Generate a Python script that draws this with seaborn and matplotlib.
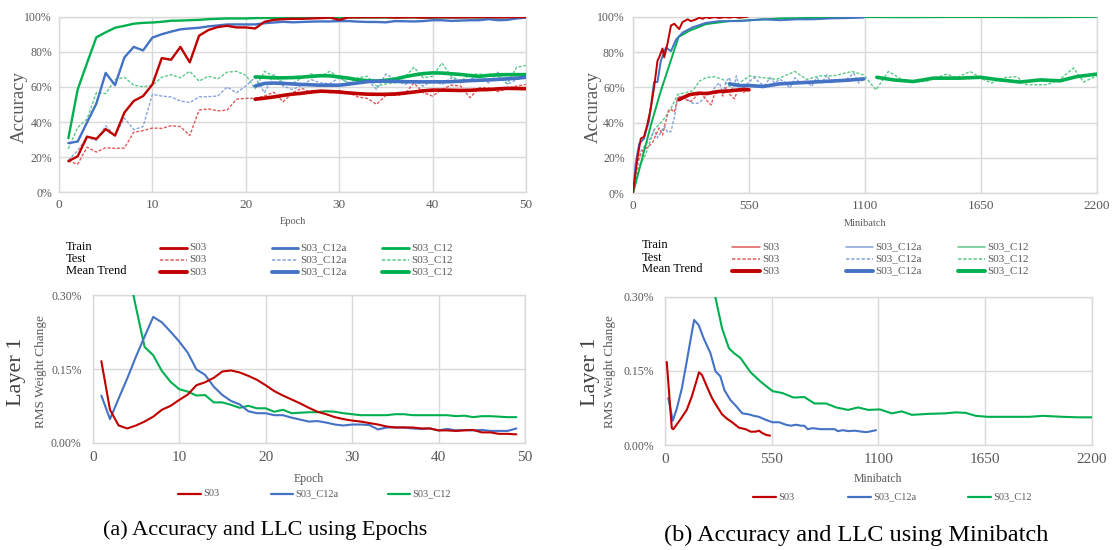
import matplotlib
matplotlib.use("Agg")
import matplotlib.pyplot as plt
import seaborn as sns
import pandas as pd
from matplotlib.lines import Line2D

# ---------------- data: (a) accuracy vs epoch ----------------
epochs = list(range(1, 51))
red_train_a = [17.7, 20.5, 31.7, 30.4, 36.0, 32.3, 45.4, 52.0, 54.8, 61.4,
               76.4, 75.5, 82.8, 74.0, 89.2, 92.4, 94.1, 94.8, 93.9, 93.9,
               93.3, 97.1, 98.2, 98.6, 98.8, 98.8, 99.0, 99.2, 99.5, 98.2,
               99.6, 99.6, 99.7, 99.7, 99.8, 99.5, 99.6, 99.7, 99.5, 99.6,
               99.7, 99.6, 99.6, 99.7, 99.7, 99.8, 99.6, 99.7, 99.8, 99.8]
blue_train_a = [28.0, 28.9, 39.8, 50.5, 68.0, 61.0, 76.8, 82.8, 80.8, 88.1,
                90.0, 91.5, 92.8, 93.3, 93.7, 94.5, 95.0, 95.6, 95.6, 95.6,
                95.6, 96.3, 96.7, 97.1, 96.8, 97.0, 97.2, 97.3, 97.3, 97.5,
                97.5, 97.2, 97.0, 97.0, 96.8, 97.5, 97.4, 97.3, 97.5, 98.0,
                98.0, 97.6, 97.8, 98.0, 98.0, 98.6, 98.0, 98.2, 99.0, 99.5]
green_train_a = [30.8, 58.6, 73.6, 88.3, 91.1, 93.7, 94.8, 96.0, 96.5, 96.7,
                 97.1, 97.7, 97.8, 98.0, 98.2, 98.6, 98.8, 99.0, 99.0, 99.0,
                 99.2, 99.3, 99.3, 99.4, 99.4, 99.5, 99.5, 99.5, 99.6, 99.5,
                 99.6, 99.6, 99.6, 99.6, 99.6, 99.6, 99.7, 99.6, 99.5, 99.5,
                 99.6, 99.6, 99.7, 99.7, 99.6, 99.6, 99.7, 99.7, 99.7, 99.7]
red_test_a = [17.8, 16.0, 25.7, 22.9, 25.4, 25.0, 25.2, 34.2, 35.1, 36.6,
              36.4, 37.9, 37.4, 32.3, 46.8, 47.5, 46.4, 46.8, 53.0, 53.5,
              53.5, 54.8, 57.0, 51.5, 56.7, 59.2, 56.7, 57.7, 56.7, 58.0,
              56.7, 54.3, 53.5, 50.1, 55.2, 55.2, 55.8, 62.3, 56.7, 54.8,
              58.6, 61.0, 60.5, 53.9, 59.5, 59.5, 57.3, 59.2, 60.5, 61.4]
blue_test_a = [18.2, 23.8, 31.4, 29.5, 37.9, 32.3, 42.3, 35.7, 37.4, 55.8,
               54.8, 54.3, 52.0, 51.1, 54.3, 54.5, 54.8, 59.9, 56.7, 60.5,
               65.5, 56.7, 67.0, 60.5, 58.5, 61.0, 64.2, 62.3, 61.8, 65.2,
               62.3, 62.9, 64.2, 58.6, 67.4, 64.2, 61.4, 63.7, 60.5, 63.7,
               61.4, 65.2, 62.3, 64.2, 66.7, 62.3, 68.4, 61.4, 64.2, 65.2]
green_test_a = [24.8, 37.0, 41.7, 56.7, 56.2, 64.2, 65.5, 61.0, 60.1, 61.0,
                65.5, 67.0, 65.2, 68.9, 63.3, 66.1, 64.6, 68.4, 68.9, 66.7,
                59.0, 68.9, 66.1, 62.5, 62.0, 65.2, 67.4, 66.1, 68.9, 65.2,
                62.3, 65.2, 66.1, 60.5, 61.8, 62.3, 65.5, 71.2, 65.2, 66.1,
                73.6, 66.1, 63.3, 67.0, 67.4, 66.7, 66.1, 61.8, 71.2, 72.3]
trend_epochs = list(range(21, 51))
red_mean_a = [53.0, 53.6, 54.3, 55.2, 55.9, 56.4, 57.1, 57.6, 57.4, 57.1,
              56.6, 56.2, 55.9, 55.8, 55.8, 56.0, 56.5, 57.1, 57.8, 58.2,
              58.2, 58.1, 58.0, 58.1, 58.4, 58.5, 58.9, 59.2, 59.1, 59.0]
blue_mean_a = [60.5, 62.0, 62.2, 62.0, 61.7, 61.4, 61.2, 61.0, 61.0, 61.0,
               61.6, 62.3, 63.0, 63.3, 63.3, 63.2, 63.0, 62.9, 62.9, 62.9,
               62.9, 63.0, 63.3, 63.6, 63.8, 64.0, 64.3, 64.6, 65.0, 65.5]
green_mean_a = [65.7, 65.5, 65.2, 65.2, 65.3, 65.6, 66.0, 66.4, 66.3, 65.7,
                65.0, 64.1, 63.6, 63.3, 63.8, 64.5, 65.8, 66.8, 67.6, 68.0,
                67.9, 67.5, 67.1, 66.5, 66.0, 66.6, 66.9, 67.0, 67.0, 67.0]

# ---------------- data: (a) RMS weight change vs epoch (in %) ----------------
rms_epochs = list(range(1, 50))
red_rms_a = [0.166, 0.067, 0.035, 0.029, 0.035, 0.043, 0.053, 0.067, 0.075, 0.087,
             0.098, 0.117, 0.123, 0.132, 0.145, 0.147, 0.143, 0.136, 0.128, 0.117,
             0.105, 0.096, 0.088, 0.080, 0.071, 0.063, 0.058, 0.052, 0.048, 0.045,
             0.043, 0.040, 0.037, 0.033, 0.031, 0.031, 0.031, 0.029, 0.029, 0.025,
             0.025, 0.024, 0.025, 0.026, 0.021, 0.021, 0.018, 0.018, 0.017]
blue_rms_a = [0.096, 0.048, 0.090, 0.131, 0.175, 0.216, 0.256, 0.245, 0.226, 0.206,
              0.183, 0.149, 0.138, 0.114, 0.097, 0.085, 0.078, 0.064, 0.060, 0.060,
              0.056, 0.056, 0.051, 0.047, 0.043, 0.044, 0.041, 0.037, 0.035, 0.037,
              0.037, 0.036, 0.027, 0.031, 0.031, 0.031, 0.029, 0.028, 0.029, 0.025,
              0.028, 0.025, 0.026, 0.025, 0.026, 0.024, 0.024, 0.024, 0.029]
green_rms_a = [0.90, 0.60, 0.45, 0.36, 0.276, 0.195, 0.178, 0.146, 0.124, 0.109,
               0.104, 0.096, 0.097, 0.082, 0.082, 0.077, 0.071, 0.075, 0.070, 0.070,
               0.063, 0.067, 0.060, 0.061, 0.062, 0.062, 0.064, 0.063, 0.060, 0.058,
               0.056, 0.056, 0.056, 0.056, 0.058, 0.058, 0.056, 0.056, 0.056, 0.056,
               0.056, 0.054, 0.055, 0.052, 0.054, 0.054, 0.053, 0.052, 0.052]

# ---------------- data: (b) accuracy vs minibatch ----------------
red_train_b_x = [0, 5, 21, 37, 52, 68, 84, 100, 116, 124, 140, 148, 164, 180, 196, 219,
                 235, 259, 275, 299, 315, 330, 346, 362, 386, 410, 434, 458, 481, 505, 529, 545]
red_train_b = [0, 5, 20, 31, 32, 39, 48, 60, 75, 77, 82, 77, 85, 95, 96, 93,
               97, 98.5, 97.5, 98.5, 99.5, 98.8, 99.8, 99.2, 99.8, 99.3, 99.8, 99.5, 99.9, 99.4, 99.8, 100]
blue_train_b_x = [0, 13, 29, 52, 76, 100, 116, 132, 156, 180, 204, 235, 283, 346, 410,
                  505, 617, 696, 776, 855, 935, 1014, 1094]
blue_train_b = [0, 17, 28, 31, 41, 63, 63, 75, 82.5, 80.5, 87, 91, 94, 96.5, 97.5,
                97.5, 98.5, 98, 98.5, 98.5, 99, 99.2, 99.5]
green_train_b_x = [0, 44, 88, 132, 176, 216, 267, 346, 458, 550, 696, 935, 1094,
                   1300, 1500, 1700, 1900, 2100, 2200]
green_train_b = [0, 20, 40, 58, 74, 88.5, 92, 95.8, 97.5, 98, 99, 99.5, 99.8,
                 99.7, 99.8, 99.8, 99.7, 99.8, 99.9]
red_test_b_x = [0, 13, 29, 45, 68, 92, 108, 124, 140, 156, 169, 180, 196, 212, 227,
                251, 275, 299, 323, 346, 370, 386, 410, 426, 442, 458, 481, 498, 521, 545]
red_test_b = [0, 15, 20, 24, 26, 28.5, 33, 37, 33, 41, 47, 47.5, 46, 54, 55,
              53, 52, 55, 57, 53, 50, 56, 58, 55, 60, 56, 53.5, 59, 57, 58.5]
blue_test_b_x = [0, 5, 21, 37, 60, 84, 100, 116, 132, 148, 164, 180, 196, 212, 232, 259,
                 283, 307, 331, 355, 378, 394, 410, 426, 442, 458, 474, 490, 505, 529,
                 553, 577, 600, 625, 649, 672, 696, 720, 744, 768, 792, 823, 847, 871,
                 895, 919, 943, 967, 998, 1022, 1046, 1070, 1094]
blue_test_b = [0, 5, 14.5, 24, 27.5, 31.4, 36, 31.4, 34.5, 38, 34.5, 35, 43, 54, 55, 53,
               51, 51, 53, 56, 58, 61, 62.5, 56.5, 63.5, 65.5, 57.5, 66.5, 59, 60.5,
               63.5, 65.5, 62.5, 61, 65.5, 62.5, 64.5, 63, 59.5, 65.5, 62.5, 63.5, 60.5, 65.5,
               62.5, 67, 62.5, 64.5, 63.5, 65.5, 68, 62.5, 64.5]
green_test_b_x = [0, 29, 60, 100, 140, 180, 212, 251, 283, 315, 346, 386, 426, 458, 505,
                  553, 617, 680, 768, 823, 887, 951, 1038, 1094, 1152, 1211, 1274, 1329,
                  1392, 1487, 1535, 1598, 1661, 1701, 1756, 1819, 1867, 1962, 2025, 2089,
                  2136, 2200]
green_test_b = [0, 15, 22, 36, 41, 48, 56, 57, 58, 63.5, 65.5, 66, 64.5, 60.5, 62.5,
                66.5, 65.5, 64.5, 69, 64.5, 66.5, 66.5, 69, 67, 58.5, 69, 64.5, 63,
                63.5, 67.5, 65.5, 69, 64.5, 62.5, 65.5, 66, 61.5, 61.5, 64.5, 71,
                63, 66.5]
red_mean_b_x = [219, 243, 267, 291, 315, 339, 362, 386, 410, 434, 458, 481, 505, 529, 550]
red_mean_b = [53, 54.5, 55.8, 56.3, 56.7, 56.5, 56.7, 57.3, 57.7, 57.8, 58, 58.3, 58.6, 58.8, 58.6]
blue_mean_b_x = [458, 505, 553, 617, 696, 776, 855, 935, 1014, 1094]
blue_mean_b = [62, 61, 61, 60.5, 62, 62.5, 63, 63.5, 64, 64.8]
green_mean_b_x = [1156, 1235, 1329, 1424, 1551, 1646, 1740, 1835, 1930, 2025, 2104, 2200]
green_mean_b = [65.7, 64.2, 63.3, 65.2, 65.2, 65.7, 64.2, 63.0, 64.2, 63.7, 66.1, 67.5]

# ---------------- data: (b) RMS weight change vs minibatch ----------------
red_rms_b_x = [9, 35, 43, 78, 112, 138, 161, 175, 190, 216, 242, 268, 294, 320, 346,
               381, 415, 441, 467, 484, 502, 524, 541]
red_rms_b = [0.168, 0.034, 0.032, 0.051, 0.071, 0.098, 0.128, 0.147, 0.142, 0.118, 0.095,
             0.078, 0.062, 0.053, 0.046, 0.035, 0.032, 0.027, 0.027, 0.029, 0.024, 0.020, 0.019]
blue_rms_b_x = [17, 40, 61, 87, 112, 133, 150, 173, 199, 234, 260, 285, 306, 337, 368,
                398, 432, 458, 484, 519, 554, 588, 623, 649, 675, 701, 718, 735, 761,
                804, 848, 874, 891, 917, 943, 978, 1012, 1038, 1064, 1087]
blue_rms_b = [0.095, 0.049, 0.074, 0.115, 0.169, 0.216, 0.253, 0.243, 0.216, 0.186,
              0.149, 0.139, 0.111, 0.091, 0.078, 0.064, 0.062, 0.059, 0.057, 0.051,
              0.046, 0.046, 0.041, 0.039, 0.041, 0.039, 0.039, 0.032, 0.034, 0.032,
              0.032, 0.032, 0.028, 0.030, 0.028, 0.029, 0.027, 0.026, 0.028, 0.030]
green_rms_b_x = [44, 88, 132, 176, 220, 259, 294, 329, 355, 389, 441, 493, 554, 606, 662,
                 718, 770, 830, 882, 943, 995, 1047, 1107, 1168, 1220, 1272, 1358, 1445,
                 1497, 1549, 1601, 1661, 1791, 1877, 1946, 2050, 2128, 2200]
green_rms_b = [0.90, 0.62, 0.47, 0.39, 0.33, 0.300, 0.236, 0.196, 0.186, 0.176,
               0.147, 0.128, 0.109, 0.105, 0.096, 0.097, 0.084, 0.084, 0.076, 0.071,
               0.076, 0.071, 0.072, 0.064, 0.068, 0.061, 0.063, 0.064, 0.066, 0.065,
               0.059, 0.057, 0.057, 0.057, 0.059, 0.057, 0.056, 0.056]

series_names = ["S03", "S03_C12a", "S03_C12"]
row_labels = ["Train", "Test", "Mean Trend"]
acc_yticks = [0, 20, 40, 60, 80, 100]
acc_ylabels = ["0%", "20%", "40%", "60%", "80%", "100%"]
rms_yticks = [0.0, 0.15, 0.30]
rms_ylabels = ["0.00%", "0.15%", "0.30%"]
epoch_xticks = [0, 10, 20, 30, 40, 50]
mb_xticks = [0, 550, 1100, 1650, 2200]

# ---------------- style ----------------
sns.set_theme(style="white")
plt.rcParams['font.family'] = ['Liberation Serif', 'DejaVu Serif']

RED, BLUE, GREEN = '#C00000', '#4472C4', '#00B050'
RED_L, BLUE_L, GREEN_L = '#E05A5A', '#86A3DA', '#5CC987'
GRID = '#D9D9D9'
TXT = '#595959'
DASH = (0, (2.2, 1.2))

W, H = 1112, 550
fig = plt.figure(figsize=(W / 100, H / 100), dpi=100)
fig.patch.set_facecolor('white')


def fx(px):
    return px / W


def fy(py):
    return 1 - py / H


def make_ax(l, t, r, b):
    return fig.add_axes([fx(l), fy(b), (r - l) / W, (b - t) / H])


def style(ax, xticks, xlim, yticks, ylim, ylabels, fsx, fsy, xpad, ypad):
    ax.set_xlim(xlim)
    ax.set_ylim(ylim)
    ax.set_xticks(xticks)
    ax.set_xticklabels([str(t) for t in xticks])
    ax.set_yticks(yticks)
    ax.set_yticklabels(ylabels)
    ax.grid(True, color=GRID, lw=1.0)
    ax.set_axisbelow(True)
    for s in ax.spines.values():
        s.set_color(GRID)
        s.set_linewidth(1.0)
    ax.tick_params(axis='x', length=0, pad=xpad, labelsize=fsx, labelcolor=TXT)
    ax.tick_params(axis='y', length=0, pad=ypad, labelsize=fsy, labelcolor=TXT)
    ax.set_facecolor('white')


def line(ax, x, y, color, lw, ls='-', alpha=1.0, z=2):
    sns.lineplot(x=x, y=y, ax=ax, color=color, linewidth=lw, linestyle=ls,
                 alpha=alpha, legend=False, zorder=z, estimator=None)


# ---- (a) top: accuracy vs epoch ----
ax1 = make_ax(59, 16.7, 526, 192.3)
for y, c in [(red_test_a, RED_L), (blue_test_a, BLUE_L), (green_test_a, GREEN_L)]:
    line(ax1, epochs, y, c, 1.0, DASH, z=2)
for y, c in [(green_train_a, GREEN), (blue_train_a, BLUE), (red_train_a, RED)]:
    line(ax1, epochs, y, c, 1.7, z=3)
for y, c in [(green_mean_a, GREEN), (blue_mean_a, BLUE), (red_mean_a, RED)]:
    line(ax1, trend_epochs, y, c, 2.6, z=4)
style(ax1, epoch_xticks, (0, 50), acc_yticks, (0, 100), acc_ylabels, 9.5, 8.5, 5, 5)

# ---- (b) top: accuracy vs minibatch ----
ax2 = make_ax(633, 16.7, 1097, 193.3)
for x, y, c in [(green_test_b_x, green_test_b, GREEN_L), (blue_test_b_x, blue_test_b, BLUE_L),
                (red_test_b_x, red_test_b, RED_L)]:
    line(ax2, x, y, c, 1.0, DASH, z=2)
for x, y, c in [(green_train_b_x, green_train_b, GREEN), (blue_train_b_x, blue_train_b, BLUE),
                (red_train_b_x, red_train_b, RED)]:
    line(ax2, x, y, c, 1.4, z=3)
for x, y, c in [(green_mean_b_x, green_mean_b, GREEN), (blue_mean_b_x, blue_mean_b, BLUE),
                (red_mean_b_x, red_mean_b, RED)]:
    line(ax2, x, y, c, 2.6, z=4)
style(ax2, mb_xticks, (0, 2200), acc_yticks, (0, 100), acc_ylabels, 9.5, 8.5, 5, 6)

# ---- (a) bottom: RMS vs epoch ----
ax3 = make_ax(92.7, 295.3, 525, 442.7)
for y, c in [(green_rms_a, GREEN), (blue_rms_a, BLUE), (red_rms_a, RED)]:
    line(ax3, rms_epochs, y, c, 1.5, z=3)
style(ax3, epoch_xticks, (0, 50), rms_yticks, (0, 0.30), rms_ylabels, 11, 8.5, 6, 8)

# ---- (b) bottom: RMS vs minibatch ----
ax4 = make_ax(665, 296.7, 1092, 445)
for x, y, c in [(green_rms_b_x, green_rms_b, GREEN), (blue_rms_b_x, blue_rms_b, BLUE),
                (red_rms_b_x, red_rms_b, RED)]:
    line(ax4, x, y, c, 1.5, z=3)
style(ax4, mb_xticks, (0, 2200), rms_yticks, (0, 0.30), rms_ylabels, 11, 8.5, 6, 8)

# ---- axis labels ----
for ax, lab, xc, yc, fs in [(ax1, "Epoch", 292.5, 222, 7.5), (ax2, "Minibatch", 865, 223, 7.5),
                            (ax3, "Epoch", 309, 479, 8.5), (ax4, "Minibatch", 878, 479, 8.5)]:
    ax.set_xlabel(lab, fontsize=fs, color=TXT)
    ax.xaxis.set_label_coords(fx(xc), fy(yc), transform=fig.transFigure)
    ax.xaxis.label.set_verticalalignment('center')

for ax, xc, yc in [(ax1, 19, 107), (ax2, 593, 107)]:
    ax.set_ylabel("Accuracy", fontsize=13.5, color=TXT)
    ax.yaxis.set_label_coords(fx(xc), fy(yc), transform=fig.transFigure)
    ax.yaxis.label.set_verticalalignment('center')

for ax, xl, xr, yc in [(ax3, 17, 41, 372), (ax4, 590, 610, 372)]:
    ax.set_ylabel("RMS Weight Change", fontsize=9.5, color=TXT)
    ax.yaxis.set_label_coords(fx(xr), fy(yc), transform=fig.transFigure)
    ax.yaxis.label.set_verticalalignment('center')
    fig.text(fx(xl), fy(yc), "Layer 1", rotation=90, fontsize=16, color='#404040',
             ha='center', va='center')

# ---- legend tables (top) ----
def legend_table(x_row, row_ys, cols, thin_train):
    for lab, yy in zip(row_labels, row_ys):
        fig.text(fx(x_row), fy(yy - 1.5), lab, fontsize=9, color='black', ha='left', va='center')
    for (x0, x1, name, cd, cl) in cols:
        specs = [
            dict(color=cl if thin_train else cd, lw=1.1 if thin_train else 2.0, ls='-'),
            dict(color=cl, lw=1.1, ls=DASH),
            dict(color=cd, lw=2.8, ls='-'),
        ]
        for yy, sp in zip(row_ys, specs):
            fig.add_artist(Line2D([fx(x0), fx(x1)], [fy(yy), fy(yy)], color=sp['color'],
                                  lw=sp['lw'], linestyle=sp['ls'], transform=fig.transFigure))
            fig.text(fx(x1 + 2), fy(yy), name, fontsize=8, color=TXT, ha='left', va='center')


legend_table(66, [248, 260, 272],
             [(160, 187, series_names[0], RED, RED_L),
              (272, 298, series_names[1], BLUE, BLUE_L),
              (382, 409, series_names[2], GREEN, GREEN_L)], thin_train=False)
legend_table(642, [247, 259, 271],
             [(732, 760, series_names[0], RED, RED_L),
              (846, 873, series_names[1], BLUE, BLUE_L),
              (958, 985, series_names[2], GREEN, GREEN_L)], thin_train=True)

# ---- bottom legends ----
def legend_row(yy, cols):
    for (x0, x1, name, c) in cols:
        fig.add_artist(Line2D([fx(x0), fx(x1)], [fy(yy), fy(yy)], color=c, lw=1.6,
                              transform=fig.transFigure))
        fig.text(fx(x1 + 2), fy(yy), name, fontsize=7.5, color=TXT, ha='left', va='center')


legend_row(494, [(178, 201, series_names[0], RED), (271, 293, series_names[1], BLUE),
                 (388, 410, series_names[2], GREEN)])
legend_row(497, [(753, 776, series_names[0], RED), (848, 871, series_names[1], BLUE),
                 (968, 991, series_names[2], GREEN)])

# ---- captions ----
fig.text(fx(265), fy(530), "(a) Accuracy and LLC using Epochs", fontsize=16,
         color='black', ha='center', va='center')
fig.text(fx(856), fy(535), "(b) Accuracy and LLC using Minibatch", fontsize=17.5,
         color='black', ha='center', va='center')

fig.savefig("out.png", dpi=100, facecolor='white')
